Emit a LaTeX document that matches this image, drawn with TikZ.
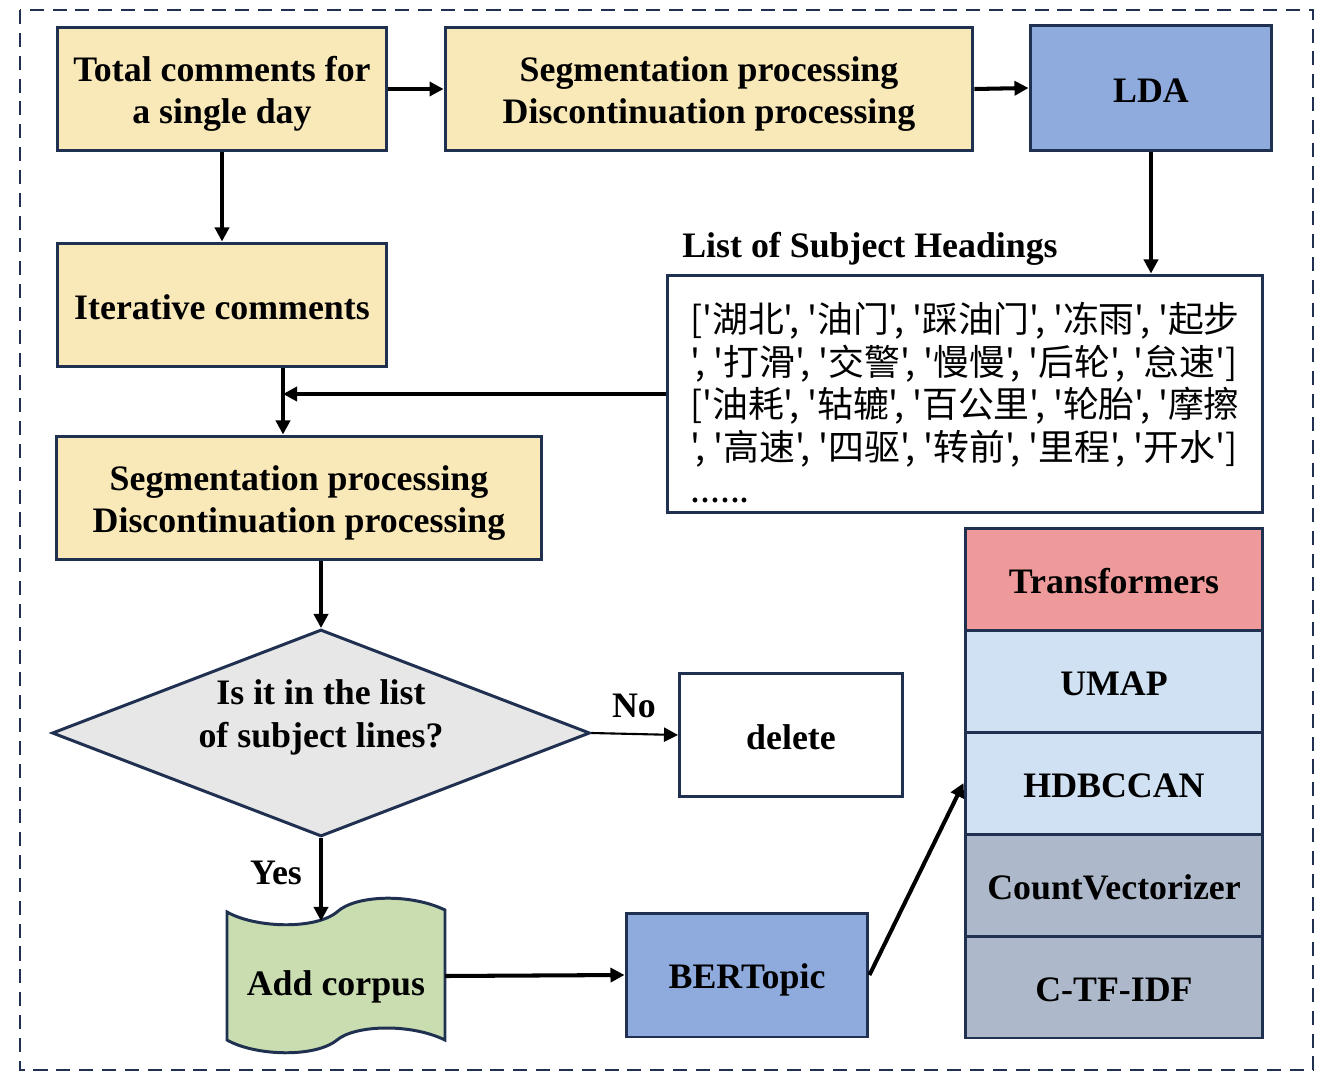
\documentclass[tikz,border=0pt]{standalone}
\usepackage{fontspec}
\setmainfont{Liberation Serif}
\newfontfamily\cjk{Noto Sans CJK SC}
\usepackage{tikz}
\usetikzlibrary{arrows.meta,shapes.geometric}

\definecolor{navy}{HTML}{1F3050}
\definecolor{boxyellow}{HTML}{FAE9B8}
\definecolor{boxblue}{HTML}{8FAADC}
\definecolor{boxpink}{HTML}{EE9A9A}
\definecolor{boxlight}{HTML}{CFE1F3}
\definecolor{boxgray}{HTML}{ADB9CA}
\definecolor{boxdiamond}{HTML}{E7E7E7}
\definecolor{boxgreen}{HTML}{C9DDB0}

\newcommand{\boxstrut}{\rule[-3.8pt]{0pt}{23.6pt}}

\begin{document}
\begin{tikzpicture}[x = 0.02cm, y = -0.02cm,
                    bigfont/.style = {font = \bfseries\fontsize{20.4}{24.4}\selectfont},
                    box/.style = {rectangle, draw = navy, line width = 1.7pt, align = center, bigfont},
                    layer/.style = {box, minimum width = 5.96cm, minimum height = 2.04cm},
                    tag/.style = {bigfont, inner sep = 0pt},
                    flow/.style = {-{Triangle[length = 8pt, width = 8pt]}, line width = 2.3pt}]
      \useasboundingbox (0, 0) rectangle (1343, 1078);
      \draw [navy, line width = 1.1pt, dash pattern = on 8pt off 5pt] (20, 10) rectangle (1313, 1070);
      % top row
      \node [box, fill = boxyellow, minimum width = 6.58cm, minimum height = 2.48cm] (total) at (222, 89) {\boxstrut Total comments for\\a single day};
      \node [box, fill = boxyellow, minimum width = 10.56cm, minimum height = 2.48cm] (seg1) at (709, 89) {\boxstrut Segmentation processing\\Discontinuation processing};
      \node [box, fill = boxblue, minimum width = 4.84cm, minimum height = 2.5cm] (lda) at (1151, 88) {\boxstrut LDA};
      % left column
      \node [box, fill = boxyellow, minimum width = 6.58cm, minimum height = 2.48cm] (iter) at (222, 305) {\boxstrut Iterative comments};
      \node [box, fill = boxyellow, minimum width = 9.7cm, minimum height = 2.48cm] (seg2) at (299, 498) {\boxstrut Segmentation processing\\Discontinuation processing};
      \node [diamond, draw = navy, line width = 1.7pt, fill = boxdiamond, aspect = 2.6, inner sep = 0pt,
             minimum width = 10.76cm, minimum height = 4.14cm] (check) at (321, 733) {};
      \node [tag, align = center] (checktext) at (321, 717) {Is it in the list\\of subject lines?};
      \node [box, fill = white, minimum width = 4.46cm, minimum height = 2.48cm] (delete) at (791, 735) {\boxstrut delete};
      \node [tag] (no) at (634, 706) {No};
      \node [tag] (yes) at (276, 873) {Yes};
      % corpus
      \draw [navy, line width = 1.7pt, fill = boxgreen]
            (227, 912) .. controls (255, 928) and (315, 930) .. (337, 912)
                       .. controls (355, 895) and (410, 893) .. (445, 910) -- (445, 1040)
                       .. controls (410, 1023) and (355, 1025) .. (337, 1040)
                       .. controls (315, 1058) and (255, 1056) .. (227, 1040) -- cycle;
      \node [tag, minimum width = 4.36cm] (corpus) at (336, 987) {Add corpus};
      \coordinate (corpustop) at (321, 921);
      \coordinate (corpusright) at (445, 976);
      \node [box, fill = boxblue, minimum width = 4.84cm, minimum height = 2.48cm] (bert) at (747, 975) {\boxstrut BERTopic};
      % subject headings
      \node [tag] (listtitle) at (870, 249) {List of Subject Headings};
      \node [rectangle, draw = navy, line width = 1.7pt, minimum width = 11.92cm, minimum height = 4.76cm,
             align = left, font = \cjk\fontsize{20.4}{24.2}\selectfont] (list) at (965, 394)
            {\rule{0pt}{27.3pt}['湖北', '油门', '踩油门', '冻雨', '起步\\
             {}', '打滑', '交警', '慢慢', '后轮', '怠速']\\
             {}['油耗', '轱辘', '百公里', '轮胎', '摩擦\\
             {}', '高速', '四驱', '转前', '里程', '开水']\\
             {}......};
      % BERTopic layers
      \node [layer, fill = boxpink] (trans) at (1114, 579) {\boxstrut Transformers};
      \node [layer, fill = boxlight] (umap) at (1114, 681) {\boxstrut UMAP};
      \node [layer, fill = boxlight] (hdb) at (1114, 783) {\boxstrut HDBCCAN};
      \node [layer, fill = boxgray] (count) at (1114, 885) {\boxstrut CountVectorizer};
      \node [layer, fill = boxgray] (ctf) at (1114, 987) {\boxstrut C-TF-IDF};
      % connectors
      \coordinate (merge) at (283, 394);
      \draw [flow] (total) -- (seg1);
      \draw [flow] (seg1.east) -- (lda.west);
      \draw [flow] (total) -- (iter);
      \draw [flow] (lda.south) -- (lda.south |- list.north);
      \draw [flow] (merge |- iter.south) -- (merge |- seg2.north);
      \draw [flow] (list.west) -- (merge);
      \draw [flow] (check.north |- seg2.south) -- (check.north);
      \draw [flow, line width = 1.2pt] (check.east) -- (delete.west);
      \draw [flow] (check.south) -- (corpustop);
      \draw [flow] (corpusright) -- (bert.west);
      \draw [flow] (bert.east) -- (hdb.west);
    \end{tikzpicture}
\end{document}
